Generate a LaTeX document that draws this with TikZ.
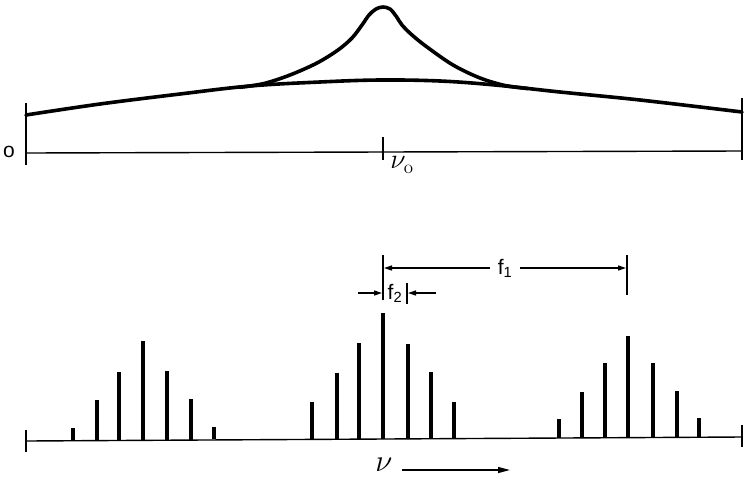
\documentclass[tikz,border=0pt]{standalone}
\usepackage{fontspec}
\setsansfont{Liberation Sans}
\usetikzlibrary{arrows.meta}
\begin{document}
\begin{tikzpicture}[x=1pt,y=-1pt,
  curve/.style={line width=3.6pt,line cap=round,line join=round},
  axis/.style={line width=1.4pt},
  spike/.style={line width=3.4pt},
  dimline/.style={line width=1.4pt},
  lbl/.style={font=\sffamily\fontsize{21}{21}\selectfont,inner sep=0pt}]
\useasboundingbox (0,0) rectangle (755,483);
% ---------- top plot ----------
\draw[axis] (26,103) -- (26,165);
\draw[axis] (742,98) -- (742,160);
\draw[axis] (26,153) -- (742,151);
\draw[axis] (383,137) -- (383,160);
\node[lbl] (o) at (9,152) {o};
\node[inner sep=0pt,scale=1.35,font=\fontsize{20}{20}\selectfont] (nu0) at (402,165) {$\nu_{\mathrm o}$};
\draw[curve] plot[smooth,tension=0.6] coordinates {(26,115) (100,104) (180,94) (250,86) (320,82) (380,80) (440,81) (495,85) (560,92) (640,100) (742,112)};
\draw[curve] plot[smooth,tension=0.55] coordinates {(240,87.3) (264,83.5) (290,75) (317,63) (338,50) (352,38) (362,25) (369,15) (376,9) (383,7) (390,9) (396,16) (402,25) (412,35) (427,47) (453,65) (480,78) (505,85.5) (528,88.5)};
% ---------- bottom plot ----------
\draw[axis] (26,430) -- (26,452);
\draw[axis] (742,425) -- (742,447);
\draw[axis] (26,441) -- (742,437);
\foreach \x/\t in {73/428,97/400,119/372,143/341,167/371,191/399,214/427,
                   312/402,337/373,359/343,383/313,408/344,431/372,454/402,
                   559/419,582/392,605/363,628/336,653/363,677/391,699/418}
  \draw[spike] (\x,{440.5-(\x-26)*4/716}) -- (\x,\t);
% f1 dimension
\draw[dimline] (383,255) -- (383,300);
\draw[dimline] (627,255) -- (627,295);
\node[lbl] (f1) at (505,268) {f\textsubscript{1}};
\draw[dimline,-{Triangle[length=8pt,width=5pt]}] (f1.west) ++(-8,0) coordinate (f1l) -- (384,268);
\draw[dimline,-{Triangle[length=8pt,width=5pt]}] (f1.east) ++(8,0) coordinate (f1r) -- (626,268);
% f2 dimension
\draw[dimline] (407,283) -- (407,304);
\node[lbl] (f2) at (395,293) {f\textsubscript{2}};
\coordinate (f2a) at (358,293);
\coordinate (f2b) at (436,293);
\draw[dimline,-{Triangle[length=8pt,width=5pt]}] (f2a) -- (382,293);
\draw[dimline,-{Triangle[length=8pt,width=5pt]}] (f2b) -- (408,293);
% nu arrow
\node[inner sep=0pt,scale=1.5,font=\fontsize{20}{20}\selectfont] (nu) at (384,465) {$\nu$};
\coordinate (nuend) at (510,470);
\draw[dimline,-{Triangle[length=12pt,width=6pt]}] (402,470) -- (nuend);
\end{tikzpicture}
\end{document}
